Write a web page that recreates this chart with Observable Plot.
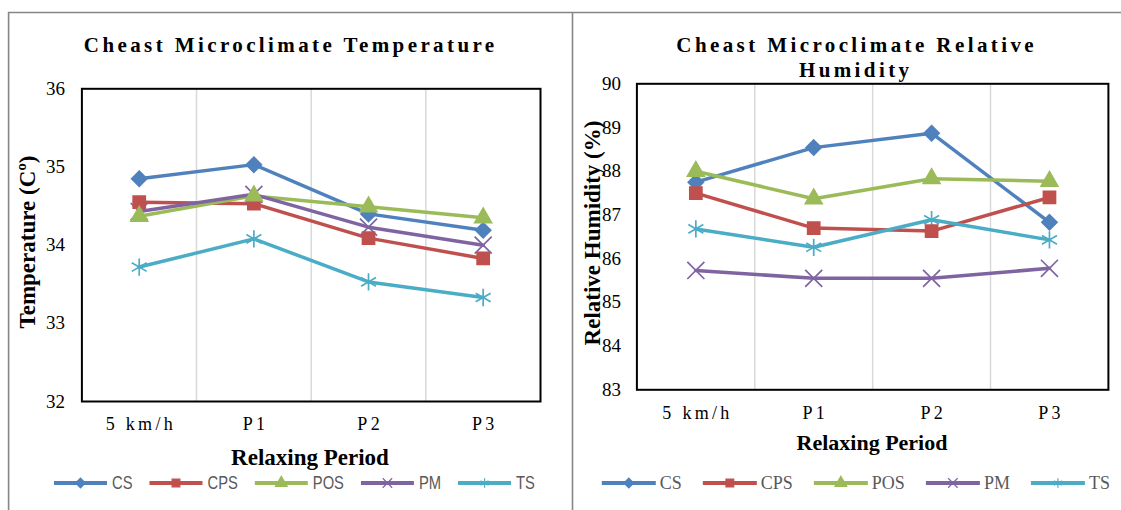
<!DOCTYPE html>
<html><head><meta charset="utf-8">
<script src="https://cdn.jsdelivr.net/npm/d3@7"></script>
<script src="https://cdn.jsdelivr.net/npm/@observablehq/plot@0.6"></script>
<style>
html,body{margin:0;padding:0;background:#fff;}
#page{position:relative;width:1121px;height:510px;overflow:hidden;background:#fff;font-family:"Liberation Serif","Times New Roman",serif;}
</style></head><body><div id="page"></div>
<script>
// ---- data ----
const periods = ["5 km/h", "P1", "P2", "P3"];
const seriesNames = ["CS", "CPS", "POS", "PM", "TS"];
const seriesColors = ["#4f81bd", "#c0504d", "#9bbb59", "#8064a2", "#4bacc6"];
const seriesSymbols = ["diamond2", "square", "triangle", "times", "asterisk"];
const markerRadius = [6.8, 6.8, 6.2, 7.8, 8.2];

const tempCS  = [34.85, 35.03, 34.40, 34.19];
const tempCPS = [34.55, 34.53, 34.09, 33.83];
const tempPOS = [34.37, 34.63, 34.49, 34.35];
const tempPM  = [34.43, 34.65, 34.23, 34.00];
const tempTS  = [33.72, 34.08, 33.53, 33.33];
const tempTicks = [32, 33, 34, 35, 36];

const rhCS  = [87.75, 88.54, 88.87, 86.83];
const rhCPS = [87.50, 86.70, 86.63, 87.40];
const rhPOS = [88.00, 87.37, 87.83, 87.77];
const rhPM  = [85.73, 85.55, 85.55, 85.78];
const rhTS  = [86.68, 86.26, 86.89, 86.43];
const rhTicks = [83, 84, 85, 86, 87, 88, 89, 90];

const titleTemp = "Cheast Microclimate Temperature";
const titleRH1 = "Cheast Microclimate Relative";
const titleRH2 = "Humidity";
const yLabelTemp = "Temperature (C\u00BA)";
const yLabelRH = "Relative Humidity (%)";
const xLabel = "Relaxing Period";

// ---- build rows ----
function toRows(seriesValues) {
  return seriesNames.flatMap((s, k) => seriesValues[k].map((v, i) => ({series: s, i, value: v, r: markerRadius[k]})));
}
const tempRows = toRows([tempCS, tempCPS, tempPOS, tempPM, tempTS]);
const rhRows = toRows([rhCS, rhCPS, rhPOS, rhPM, rhTS]);

const SERIF = "'Liberation Serif','Times New Roman',serif";
const page = document.getElementById("page");

function chart({rows, ticks, left, width, mL, mR, mT, mB, yPad}) {
  const svg = Plot.plot({
    width, height: 510,
    marginLeft: mL, marginRight: mR, marginTop: mT, marginBottom: mB,
    style: {position: "absolute", left: left + "px", top: "0px", background: "transparent", fontFamily: SERIF, overflow: "visible"},
    x: {type: "linear", domain: [-0.5, periods.length - 0.5], axis: null},
    y: {domain: [ticks[0], ticks[ticks.length - 1]], axis: null},
    r: {type: "identity"},
    color: {domain: seriesNames, range: seriesColors},
    symbol: {domain: seriesNames, range: seriesSymbols},
    marks: [
      Plot.ruleX(d3.range(1, periods.length), {x: d => d - 0.5, stroke: "#d9d9d9", strokeWidth: 1.5}),
      Plot.axisX(d3.range(periods.length), {tickSize: 0, tickPadding: 16, tickFormat: i => periods[i], fontSize: 18, fill: "#000", label: null}),
      Plot.axisY(ticks, {tickSize: 0, tickPadding: yPad, tickFormat: d => String(d), fontSize: 19, fill: "#000", label: null}),
      Plot.frame({stroke: "#000", strokeWidth: 2}),
      Plot.line(rows, {x: "i", y: "value", z: "series", stroke: "series", strokeWidth: 3.5}),
      Plot.dot(rows, {x: "i", y: "value", symbol: "series", fill: "series", stroke: "series", strokeWidth: 1.7, r: "r"})
    ]
  });
  svg.querySelectorAll('g[aria-label="x-axis tick label"] text').forEach(t => {
    t.style.letterSpacing = "3.3px";
    t.setAttribute("dx", "1.6");
  });
  page.appendChild(svg);
  return svg;
}

chart({rows: tempRows, ticks: tempTicks, left: 0, width: 565, mL: 81.4, mR: 25, mT: 88.3, mB: 109, yPad: 17});
chart({rows: rhRows, ticks: rhTicks, left: 565, width: 556, mL: 71.4, mR: 13.1, mT: 83.3, mB: 120.7, yPad: 16});

// ---- decorations: borders, titles, axis titles, legends ----
const deco = d3.select(page).append("svg")
  .attr("width", 1121).attr("height", 510)
  .style("position", "absolute").style("left", "0px").style("top", "0px")
  .style("font-family", SERIF);

deco.append("path").attr("d", "M8.6,510V12.5H1121M572.5,12.5V510")
  .attr("fill", "none").attr("stroke", "#868686").attr("stroke-width", 1.6);

function title(x, y, txt) {
  deco.append("text").attr("x", x + 1.7).attr("y", y).attr("text-anchor", "middle")
    .attr("font-weight", "bold").attr("font-size", 21).style("letter-spacing", "3.4px")
    .attr("fill", "#000").text(txt);
}
title(289, 52.3, titleTemp);
title(855, 52.3, titleRH1);
title(854, 76.7, titleRH2);

function axisTitle(x, y, txt, size, rotate) {
  deco.append("text").attr("transform", `translate(${x},${y})` + (rotate ? " rotate(-90)" : ""))
    .attr("text-anchor", "middle").attr("font-weight", "bold").attr("font-size", size)
    .attr("fill", "#000").text(txt);
}
axisTitle(310, 465, xLabel, 23, false);
axisTitle(872, 450, xLabel, 22, false);
axisTitle(35, 242, yLabelTemp, 23, true);
axisTitle(600, 233, yLabelRH, 23, true);

const d3Symbols = {diamond2: d3.symbolDiamond2, square: d3.symbolSquare, triangle: d3.symbolTriangle, times: d3.symbolTimes, asterisk: d3.symbolAsterisk};

function legend({x0, y, lineLen, gap, itemGap, font, size, squeeze}) {
  let x = x0;
  seriesNames.forEach((name, k) => {
    const g = deco.append("g");
    g.append("line").attr("x1", x).attr("x2", x + lineLen).attr("y1", y).attr("y2", y)
      .attr("stroke", seriesColors[k]).attr("stroke-width", 4);
    g.append("path").attr("transform", `translate(${x + lineLen / 2},${y})`)
      .attr("d", d3.symbol(d3Symbols[seriesSymbols[k]], 60)())
      .attr("fill", seriesColors[k]).attr("stroke", seriesColors[k]).attr("stroke-width", 1.2);
    const t = g.append("text")
      .attr("transform", `translate(${x + lineLen + gap},${y}) scale(${squeeze},1)`)
      .attr("dy", "0.35em")
      .attr("font-family", font).attr("font-size", size).attr("fill", "#595959").text(name);
    x = x + lineLen + gap + t.node().getComputedTextLength() * squeeze + itemGap;
  });
}
legend({x0: 54, y: 483, lineLen: 53, gap: 5, itemGap: 17, font: "'Liberation Sans',Arial,sans-serif", size: 18, squeeze: 0.82});
legend({x0: 601.8, y: 483, lineLen: 54, gap: 4, itemGap: 21, font: SERIF, size: 18, squeeze: 1});
</script></body></html>
